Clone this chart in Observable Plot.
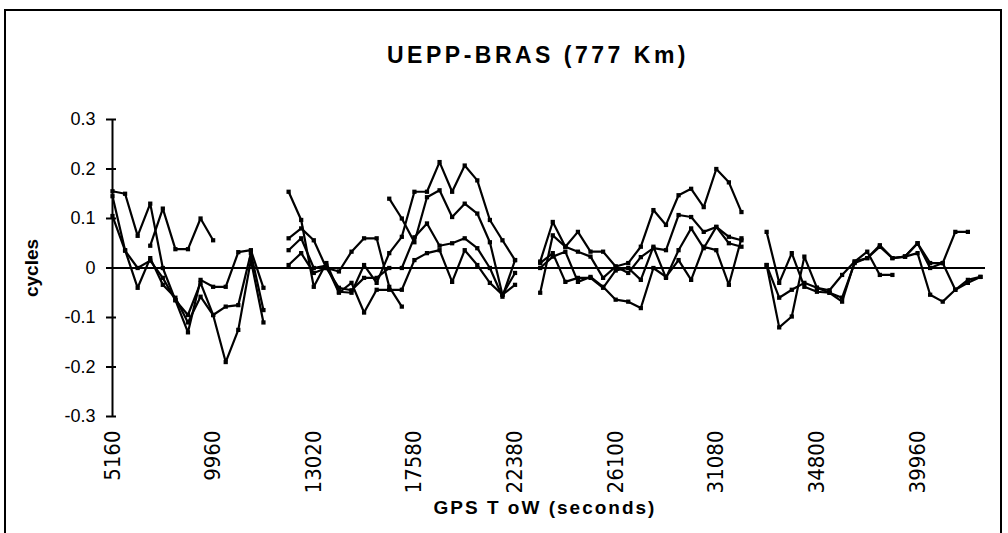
<!DOCTYPE html>
<html>
<head>
<meta charset="utf-8">
<script src="https://cdn.jsdelivr.net/npm/d3@7"></script>
<script src="https://cdn.jsdelivr.net/npm/@observablehq/plot@0.6"></script>
<style>
  body { margin: 0; background: #fff; }
  #wrap { position: relative; width: 1008px; height: 533px; overflow: hidden; background: #fff; }
  #frame { position: absolute; left: 4px; top: 9px; width: 998px; height: 560px; border: 2px solid #000; box-sizing: border-box; }
  #title { position: absolute; top: 42px; left: 0; width: 1076px; text-align: center;
           font: bold 23px "Liberation Sans", Arial, sans-serif; letter-spacing: 3.5px; color: #000; }
  #ylab { position: absolute; left: 32px; top: 268px; transform: translate(-50%, -50%) rotate(-90deg);
          font: bold 19px "Liberation Sans", Arial, sans-serif; color: #000; white-space: nowrap; }
  #xlab { position: absolute; top: 497px; left: 0; width: 1090px; text-align: center;
          font: bold 19px "Liberation Sans", Arial, sans-serif; letter-spacing: 2px; color: #000; white-space: pre; }
  #chart { position: absolute; left: 0; top: 0; }
</style>
</head>
<body>
<div id="wrap">
  <div id="frame"></div>
  <div id="chart"></div>
  <div id="title">UEPP-BRAS (777 Km)</div>
  <div id="ylab">cycles</div>
  <div id="xlab">GPS T oW (seconds)</div>
</div>
<script>
// Category tick labels (GPS time of week), one label every 8 samples
const tickLabels = ["5160", "9960", "13020", "17580", "22380", "26100", "31080", "34800", "39960"];
const samplesPerLabel = 8;
const yTicks = [-0.3, -0.2, -0.1, 0, 0.1, 0.2, 0.3];

// Pass 1 (samples 0..12)
const a1 = [0.155, 0.15, 0.065, 0.13, 0.0, -0.065, -0.13, -0.024, -0.038, -0.038, 0.032, 0.036, -0.04];
const a2 = [0.045, 0.12, 0.038, 0.038, 0.10, 0.056];            // from sample 3
const a3 = [0.145, 0.036, -0.04, 0.02, -0.034, -0.06, -0.11, -0.058, -0.095, -0.19, -0.125, 0.016, -0.11];
const a4 = [0.105, 0.035, 0.0, 0.015, -0.02, -0.065, -0.095, -0.03, -0.095, -0.078, -0.075, 0.03, -0.085];

// Pass 2 (samples 14..32)
const b1 = [0.154, 0.097, -0.038, 0.01, -0.048, -0.05, 0.006, -0.03, 0.03, 0.063, 0.154, 0.154, 0.214, 0.154, 0.207, 0.177, 0.097, 0.056, 0.016];
const b2 = [0.14, 0.1, 0.052, 0.143, 0.157, 0.103, 0.13, 0.11, 0.052, -0.054, -0.034];   // from sample 22
const b3 = [0.06, 0.08, 0.056, 0.0, -0.007, 0.033, 0.06, 0.06, -0.038, -0.078];           // from sample 14
const b4 = [0.036, 0.06, 0.0, 0.005, -0.05, -0.03, -0.09, -0.044, -0.044, -0.044, 0.016, 0.03, 0.036, -0.028, 0.036, 0.006, -0.03, -0.054, -0.01];
const b5 = [0.006, 0.03, -0.01, 0.0, -0.04, -0.045, -0.02, -0.02, 0.0, 0.0, 0.062, 0.09, 0.045, 0.05, 0.06, 0.04, 0.0, -0.058, 0.016];

// Pass 3 (samples 34..50)
const c1 = [0.013, 0.093, 0.043, 0.073, 0.033, 0.033, 0.003, 0.01, 0.043, 0.117, 0.087, 0.147, 0.16, 0.123, 0.2, 0.173, 0.113];
const c2 = [-0.05, 0.066, 0.043, 0.033, 0.023, -0.02, 0.003, -0.01, 0.022, 0.04, 0.036, 0.107, 0.103, 0.073, 0.083, 0.063, 0.056];
const c3 = [0.0, 0.023, 0.033, -0.028, -0.018, -0.038, -0.064, -0.068, -0.081, 0.0, -0.018, 0.016, -0.024, 0.043, 0.036, -0.034, 0.06];
const c4 = [0.01, 0.03, -0.028, -0.02, -0.02, -0.04, -0.005, 0.0, -0.024, 0.043, -0.02, 0.036, 0.08, 0.04, 0.083, 0.05, 0.043];

// Pass 4 (samples 52..69)
const d1 = [0.073, -0.03, 0.03, -0.038, -0.048, -0.05, -0.068, 0.013, 0.02, 0.043, 0.02, 0.023, 0.05, 0.0, 0.01, 0.073, 0.073];
const d2 = [0.006, -0.12, -0.098, 0.023, -0.04, -0.045, -0.014, 0.013, 0.033, -0.014, -0.014];
const d3 = [0.006, -0.06, -0.044, -0.03, -0.04, -0.05, -0.06, 0.01, 0.02, 0.046, 0.02, 0.023, 0.03, -0.054, -0.068, -0.044, -0.024, -0.018];
const d4 = [0.023, 0.05, 0.01, 0.01, -0.044, -0.03, -0.018];     // from sample 63

const seriesList = [
  {name: "a1", start: 0, values: a1}, {name: "a2", start: 3, values: a2},
  {name: "a3", start: 0, values: a3}, {name: "a4", start: 0, values: a4},
  {name: "b1", start: 14, values: b1}, {name: "b2", start: 22, values: b2},
  {name: "b3", start: 14, values: b3}, {name: "b4", start: 14, values: b4},
  {name: "b5", start: 14, values: b5},
  {name: "c1", start: 34, values: c1}, {name: "c2", start: 34, values: c2},
  {name: "c3", start: 34, values: c3}, {name: "c4", start: 34, values: c4},
  {name: "d1", start: 52, values: d1}, {name: "d2", start: 52, values: d2},
  {name: "d3", start: 52, values: d3}, {name: "d4", start: 63, values: d4}
];
const data = seriesList.flatMap(s => s.values.map((v, i) => ({series: s.name, sample: s.start + i, value: v})));
const labelSamples = tickLabels.map((_, i) => i * samplesPerLabel);

const chart = Plot.plot({
  width: 1008,
  height: 533,
  marginLeft: 112,
  marginRight: 23,
  marginTop: 119,
  marginBottom: 117,
  style: {background: "transparent", color: "#000"},
  x: {domain: [0, 69.4]},
  y: {domain: [-0.3, 0.3]},
  marks: [
    Plot.axisY({ticks: yTicks, tickSize: 0, tickPadding: 17, label: null,
      tickFormat: d => d === 0 ? "0" : d.toFixed(1), fontSize: 18, fontFamily: "Liberation Sans, Arial, sans-serif"}),
    Plot.axisY({ticks: yTicks, tickSize: 10, dx: 4, label: null, tickFormat: () => "", strokeWidth: 2}),
    Plot.axisX({ticks: labelSamples, tickFormat: (d, i) => tickLabels[i], tickRotate: -90, tickSize: 0,
      tickPadding: 14, label: null, fontSize: 22, fontFamily: "Liberation Sans Narrow, DejaVu Sans Condensed, sans-serif"}),
    Plot.ruleX([0], {strokeWidth: 2}),
    Plot.ruleY([0], {strokeWidth: 2}),
    Plot.line(data, {x: "sample", y: "value", z: "series", stroke: "#000", strokeWidth: 2.2}),
    Plot.dot(data, {x: "sample", y: "value", symbol: "square", r: 2.4, fill: "#000", stroke: "none"})
  ]
});
document.getElementById("chart").appendChild(chart);
</script>
</body>
</html>
